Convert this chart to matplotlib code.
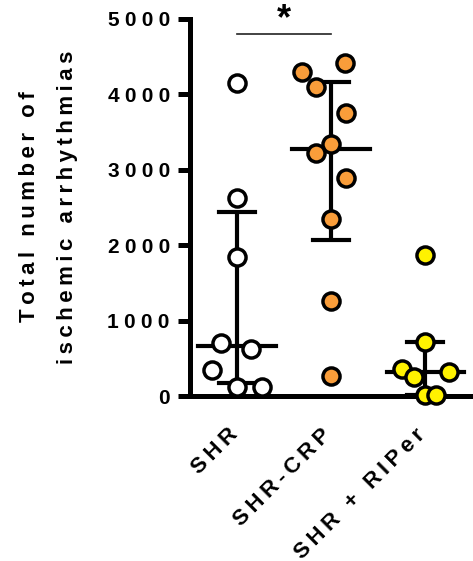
import numpy as np
import matplotlib
matplotlib.use("Agg")
import matplotlib.pyplot as plt
from matplotlib.transforms import ScaledTranslation

plt.rcParams['font.family'] = ['Liberation Sans', 'DejaVu Sans']
plt.rcParams['font.weight'] = 'bold'

groups = ["SHR", "SHR-CRP", "SHR + RIPer"]
colors = ["white", "#F99D3A", "#FFF200"]

shr = [4150, 2630, 1845, 708, 619, 341, 119, 119]
shr_dx = [0, 0, 0, -0.17, 0.15, -0.27, 0, 0.27]
crp = [4420, 4301, 4093, 3757, 3341, 3217, 2885, 2345, 1257, 261]
crp_dx = [0.15, -0.31, -0.16, 0.16, 0, -0.16, 0.16, 0, 0, 0]
rip = [1867, 717, 363, 315, 252, 10, 10]
rip_dx = [0, 0, -0.25, 0.26, -0.12, 0, 0.12]

medians = [664, 3274, 315]
lows = [173, 2066, 10]
highs = [2434, 4159, 717]

yticks = [0, 1000, 2000, 3000, 4000, 5000]


def spaced(s, sp='\u2009'):
    return sp.join(s)


fig = plt.figure(figsize=(4.73, 5.61), dpi=100)
ax = fig.add_axes([190 / 473, 1 - 396 / 561, 1 - 190 / 473, (396 - 19) / 561])

lw = 3.0
for i, (vals, dx) in enumerate([(shr, shr_dx), (crp, crp_dx), (rip, rip_dx)]):
    ax.plot([i, i], [lows[i], highs[i]], color='black', lw=lw, zorder=2,
            solid_capstyle='butt')
    ax.plot([i - 0.195, i + 0.195], [lows[i]] * 2, color='black', lw=lw, zorder=2)
    ax.plot([i - 0.195, i + 0.195], [highs[i]] * 2, color='black', lw=lw, zorder=2)
    ax.plot([i - 0.41, i + 0.41], [medians[i]] * 2, color='black', lw=lw, zorder=2)
    ax.plot(i + np.array(dx), vals, 'o', ms=12.3, mew=2.5, mfc=colors[i],
            mec='black', zorder=5, clip_on=False, linestyle='none')

ax.set_xlim(-0.5, 2.51)
ax.set_ylim(0, 5000)
ax.spines['top'].set_visible(False)
ax.spines['right'].set_visible(False)
ax.spines['left'].set_linewidth(3.6)
ax.spines['bottom'].set_linewidth(3.6)
ax.spines['left'].set_bounds(0, 5000)

ax.set_yticks(yticks)
ax.set_yticklabels([spaced(str(t), '\u2005') for t in yticks], fontsize=15,
                   fontweight='bold')
ax.tick_params(axis='y', length=8.5, width=3.6, pad=6)
ax.set_xticks(range(3))
ax.set_xticklabels([spaced(g) for g in groups], fontsize=16, fontweight='bold',
                   rotation=45, ha='right', va='top', rotation_mode='anchor')
ax.tick_params(axis='x', length=0, pad=20.5)
shift = ScaledTranslation(-0.10, 0, fig.dpi_scale_trans)
for lab in ax.get_xticklabels():
    lab.set_transform(lab.get_transform() + shift)

# significance bar
ax.plot([0, 1], [4800, 4800], color='#222222', lw=1.2, clip_on=False)
ax.text(0.5, 4990, '*', ha='center', va='center', fontsize=26, fontweight='bold')

fig.text(35 / 473, 1 - 207 / 561, spaced("Total number of"), rotation=90,
         rotation_mode='anchor', ha='center', va='baseline', fontsize=16,
         fontweight='bold')
fig.text(73 / 473, 1 - 207 / 561, spaced("ischemic arrhythmias"), rotation=90,
         rotation_mode='anchor', ha='center', va='baseline', fontsize=16,
         fontweight='bold')

fig.savefig("out.png", dpi=100)
